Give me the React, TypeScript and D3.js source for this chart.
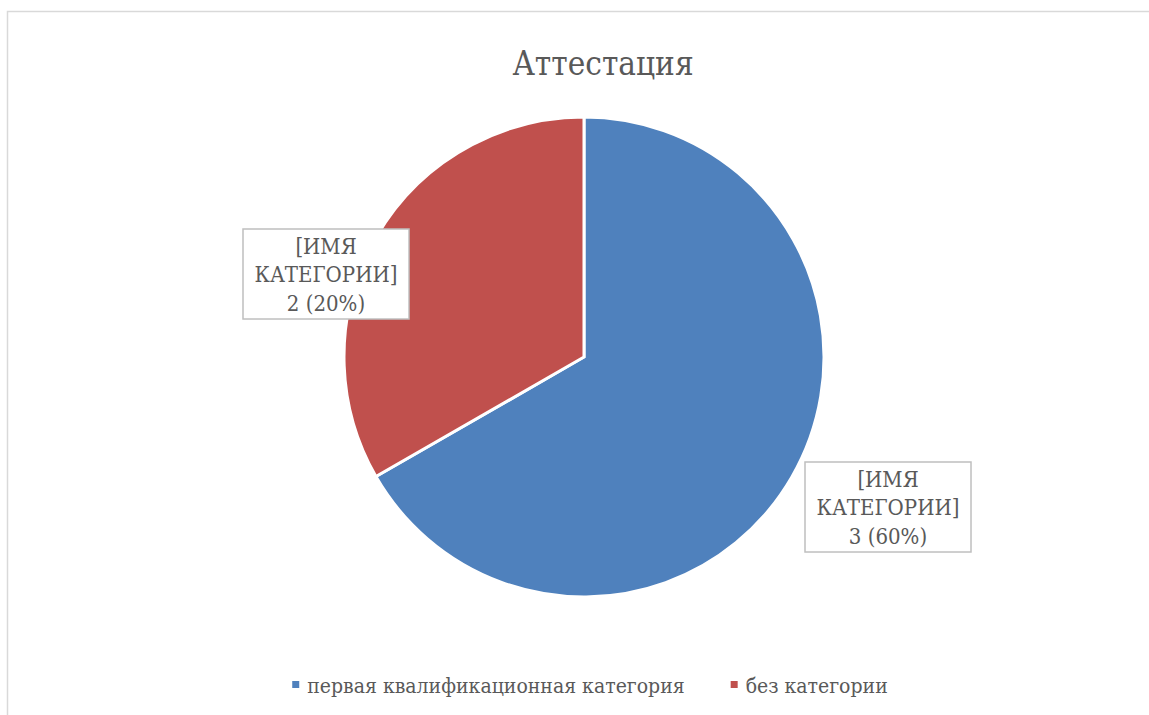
import React, { useEffect, useRef } from 'react';
import * as d3 from 'd3';

// Chart data
const categories = ['первая квалификационная категория', 'без категории'];
const sliceShares = [66.7, 33.3];
const labelLines = [
  ['[ИМЯ', 'КАТЕГОРИИ]', '3 (60%)'],
  ['[ИМЯ', 'КАТЕГОРИИ]', '2 (20%)'],
];
const colors = ['#4f81bd', '#c0504d'];
const title = 'Аттестация';

const App = () => {
  const ref = useRef<SVGSVGElement | null>(null);

  useEffect(() => {
    const width = 1149;
    const height = 715;
    const cx = 584;
    const cy = 357;
    const radius = 240;
    const font = '"DejaVu Serif Condensed", "DejaVu Serif", serif';
    const textColor = '#595959';

    const svg = d3.select(ref.current);
    svg.selectAll('*').remove();
    svg.attr('width', width).attr('height', height);

    svg.append('rect')
      .attr('width', width)
      .attr('height', height)
      .attr('fill', '#ffffff');

    // chart area border (runs off the right and bottom edges)
    svg.append('path')
      .attr('d', `M7.5,${height + 5} V11.5 H${width + 5}`)
      .attr('fill', 'none')
      .attr('stroke', '#d9d9d9')
      .attr('stroke-width', 1.5);

    svg.append('text')
      .attr('x', 603)
      .attr('y', 75)
      .attr('text-anchor', 'middle')
      .style('font-family', font)
      .attr('font-size', 33)
      .attr('fill', textColor)
      .text(title);

    const pie = d3.pie<number>().sort(null).value(d => d);
    const arcs = pie(sliceShares);
    const arc = d3.arc<d3.PieArcDatum<number>>().innerRadius(0).outerRadius(radius);

    const g = svg.append('g').attr('transform', `translate(${cx},${cy})`);

    g.selectAll('path')
      .data(arcs)
      .enter()
      .append('path')
      .attr('d', arc)
      .attr('fill', (d, i) => colors[i])
      .attr('stroke', '#ffffff')
      .attr('stroke-width', 3)
      .attr('stroke-linejoin', 'miter');

    // data label boxes, placed outside the slices
    const labelOffsets = [[304, 150], [-258, -83]];
    const boxW = 166;
    const boxH = 90;
    const lineH = 28.5;

    labelLines.forEach((lines, i) => {
      const [dx, dy] = labelOffsets[i];
      const lg = g.append('g').attr('transform', `translate(${dx},${dy})`);
      lg.append('rect')
        .attr('x', -boxW / 2)
        .attr('y', -boxH / 2)
        .attr('width', boxW)
        .attr('height', boxH)
        .attr('fill', '#ffffff')
        .attr('stroke', '#bfbfbf')
        .attr('stroke-width', 1.5);
      lg.selectAll('text.lbl')
        .data(lines)
        .enter()
        .append('text')
        .attr('class', 'lbl')
        .attr('x', 0)
        .attr('y', (d, j) => (j - 1) * lineH + 8)
        .attr('text-anchor', 'middle')
        .style('font-family', font)
        .attr('font-size', 22)
        .attr('fill', textColor)
        .text(d => d);
    });

    // legend
    const legendY = 693;
    const marker = 7;
    const markerGap = 8;
    const itemGap = 46;
    const legend = svg.append('g');
    const items = legend.selectAll('g')
      .data(categories)
      .enter()
      .append('g');
    items.append('rect')
      .attr('width', marker)
      .attr('height', marker)
      .attr('y', legendY - 12)
      .attr('fill', (d, i) => colors[i]);
    items.append('text')
      .attr('x', marker + markerGap)
      .attr('y', legendY)
      .style('font-family', font)
      .attr('font-size', 21)
      .attr('fill', textColor)
      .text(d => d);

    let x = 0;
    const widths: number[] = [];
    items.each(function () {
      const t = d3.select(this).select('text').node() as SVGTextElement;
      widths.push(marker + markerGap + t.getComputedTextLength());
    });
    const total = d3.sum(widths) + itemGap * (widths.length - 1);
    const start = 590 - total / 2;
    items.attr('transform', (d, i) => {
      const tx = start + x;
      x += widths[i] + itemGap;
      return `translate(${tx},0)`;
    });
  }, []);

  return (
    <svg ref={ref} style={{ position: 'absolute', left: 0, top: 0, display: 'block' }} />
  );
};

export default App;
